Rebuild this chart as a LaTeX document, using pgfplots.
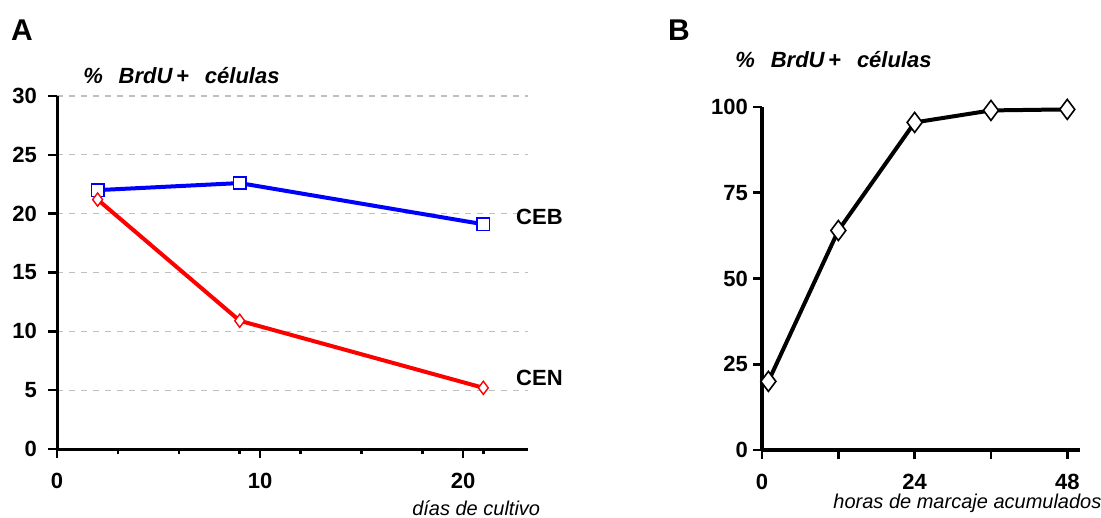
\documentclass[border=0pt]{standalone}
\usepackage{fontspec}
\setmainfont{Liberation Sans}
\usepackage{pgfplots}
\pgfplotsset{compat=1.18}

\definecolor{ceb}{RGB}{0,0,255}
\definecolor{cen}{RGB}{255,0,0}

\pgfplotsset{
  panel/.style={
    scale only axis,
    axis lines=left,
    axis line style={-, line width=1.5pt},
    tick align=outside,
    major tick length=4.5pt,
    minor tick length=2.5pt,
    every tick/.style={black, line width=1.3pt},
    /pgf/number format/assume math mode=true,
    ticklabel style={font=\bfseries\fontsize{11}{13}\selectfont},
    clip=false,
  },
}

\begin{document}
\begin{tikzpicture}
\useasboundingbox (0pt,0pt) rectangle (550.5pt,-259pt);
\node[font=\bfseries\fontsize{15}{18}\selectfont] at (11pt,-15pt) {A};
\node[font=\bfseries\fontsize{15}{18}\selectfont] at (339.5pt,-15pt) {B};

% panel A: % BrdU+ cells vs days in culture
\begin{axis}[
  panel,
  at={(28.5pt,-224.5pt)}, anchor=south west,
  width=235.5pt, height=176.5pt,
  xmin=0, xmax=23.2, ymin=0, ymax=30,
  xtick={0,10,20},
  minor xtick={3,6,9,12,15,18,21},
  ytick={0,5,10,15,20,25,30},
  ymajorgrids,
  grid style={dashed, black!25, line width=0.6pt},
  xticklabel style={yshift=-4pt},
  yticklabel style={xshift=-2pt},
]
\addplot[ceb, line width=2pt, mark=square*, mark size=3.1pt,
  mark options={fill=white, draw=ceb, line width=0.8pt}]
  coordinates {(2,22.0) (9,22.6) (21,19.1)};
\addplot[cen, line width=2pt, mark=diamond*, mark size=3.3pt,
  mark options={fill=white, draw=cen, line width=0.7pt}]
  coordinates {(2,21.2) (9,10.9) (21,5.2)};
\node[anchor=west, inner sep=0pt, font=\bfseries\fontsize{11}{13}\selectfont] at (axis cs:22.6,19.7) {CEB};
\node[anchor=west, inner sep=0pt, font=\bfseries\fontsize{11}{13}\selectfont] at (axis cs:22.6,6.0) {CEN};
\node[anchor=west, inner sep=0pt, font=\bfseries\itshape\fontsize{11}{13}\selectfont]
  at (axis description cs:0.055,1.057) {\%~~\,BrdU\,+~~\,células};
\node[font=\itshape\fontsize{10}{12}\selectfont]
  at (axis description cs:0.89,-0.168) {días de cultivo};
\end{axis}

% panel B: cumulative labelling
\begin{axis}[
  panel,
  at={(381pt,-225pt)}, anchor=south west,
  width=159pt, height=171.5pt,
  xmin=0, xmax=50, ymin=0, ymax=100,
  xtick={0,24,48},
  minor xtick={12,36},
  minor tick length=4.5pt,
  ytick={0,25,50,75,100},
  axis line style={-, line width=1.8pt},
  xticklabel style={yshift=-4pt},
  yticklabel style={xshift=1pt},
]
\addplot[black, line width=2pt, mark=diamond*, mark size=5pt,
  mark options={fill=white, draw=black, line width=0.8pt}]
  coordinates {(1,20.0) (12,64.0) (24,95.5) (36,99.0) (48,99.3)};
\node[anchor=west, inner sep=0pt, font=\bfseries\itshape\fontsize{11}{13}\selectfont]
  at (axis description cs:-0.085,1.137) {\%~~\,BrdU\,+~~\,células};
\node[font=\itshape\fontsize{10}{12}\selectfont]
  at (axis description cs:0.646,-0.155) {horas de marcaje acumulados};
\end{axis}
\end{tikzpicture}
\end{document}
